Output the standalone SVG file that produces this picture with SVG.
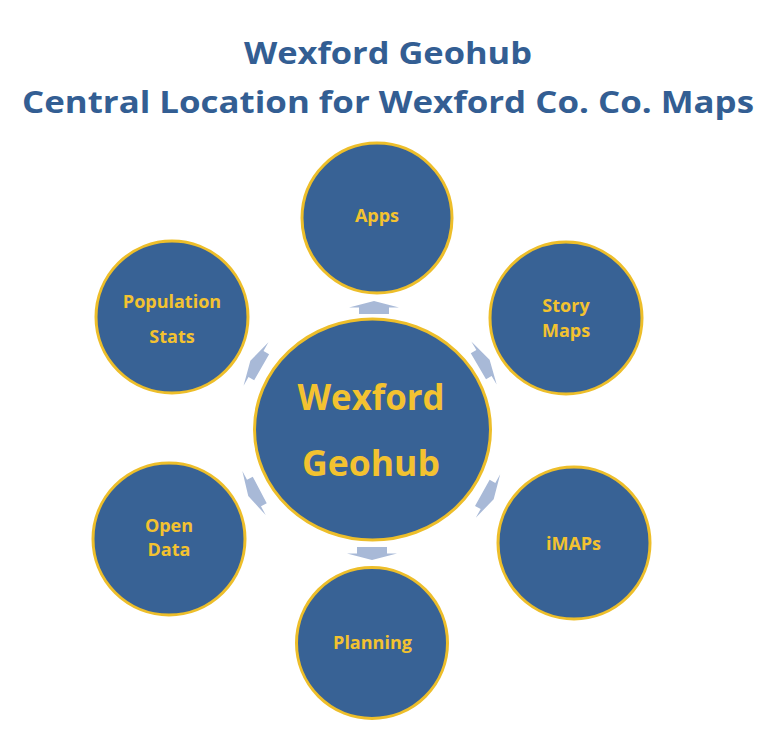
<svg xmlns="http://www.w3.org/2000/svg" width="779" height="748" viewBox="0 0 779 748">
<defs>
<style>
.title{font-family:"Open Sans","Liberation Sans",sans-serif;font-weight:bold;font-size:31px;fill:#335E93;text-anchor:middle}
.node circle,.node ellipse{fill:#386295;stroke:#EDBE2A;stroke-width:3}
.lbl{font-family:"Open Sans","Liberation Sans",sans-serif;font-weight:bold;font-size:18px;fill:#F3C230;text-anchor:middle}
.big{font-family:"Open Sans","Liberation Sans",sans-serif;font-weight:bold;font-size:35px;fill:#F3C230;text-anchor:middle}
.arr{fill:#A8B9D7}
</style>
<polygon id="ar" points="-15,6.5 -15,0 -25,0 0,-6.5 25,0 15,0 15,6.5"/>
</defs>
<rect width="779" height="748" fill="#FFFFFF"/>
<text class="title" x="388" y="64" textLength="288" lengthAdjust="spacingAndGlyphs">Wexford Geohub</text>
<text class="title" x="388" y="113" textLength="732" lengthAdjust="spacingAndGlyphs">Central Location for Wexford Co. Co. Maps</text>
<g id="connectors" class="arr">
<use href="#ar" transform="translate(374,307.5)"/>
<use href="#ar" transform="translate(484,363) rotate(59.5)"/>
<use href="#ar" transform="translate(488,496) rotate(119.2)"/>
<use href="#ar" transform="translate(372,553.5) rotate(180)"/>
<use href="#ar" transform="translate(254,493) rotate(242.2)"/>
<use href="#ar" transform="translate(256,364) rotate(-60.1)"/>
</g>
<g id="center" class="node">
<ellipse cx="372.5" cy="429.5" rx="118" ry="110.5"/>
<text class="big" x="371" y="410" textLength="147" lengthAdjust="spacingAndGlyphs">Wexford</text>
<text class="big" x="371" y="476" textLength="138" lengthAdjust="spacingAndGlyphs">Geohub</text>
</g>
<g id="apps" class="node">
<circle cx="377" cy="218" r="75"/>
<text class="lbl" x="377" y="222">Apps</text>
</g>
<g id="storymaps" class="node">
<circle cx="566" cy="318" r="76"/>
<text class="lbl" x="566" y="312">Story</text>
<text class="lbl" x="566" y="337">Maps</text>
</g>
<g id="imaps" class="node">
<circle cx="574" cy="543" r="76"/>
<text class="lbl" x="573.5" y="550">iMAPs</text>
</g>
<g id="planning" class="node">
<circle cx="372" cy="643" r="75.5"/>
<text class="lbl" x="372.5" y="649">Planning</text>
</g>
<g id="opendata" class="node">
<circle cx="169" cy="539" r="76"/>
<text class="lbl" x="169" y="532">Open</text>
<text class="lbl" x="169" y="556">Data</text>
</g>
<g id="population" class="node">
<circle cx="172" cy="317" r="76"/>
<text class="lbl" x="172" y="308">Population</text>
<text class="lbl" x="172" y="343">Stats</text>
</g>
</svg>
